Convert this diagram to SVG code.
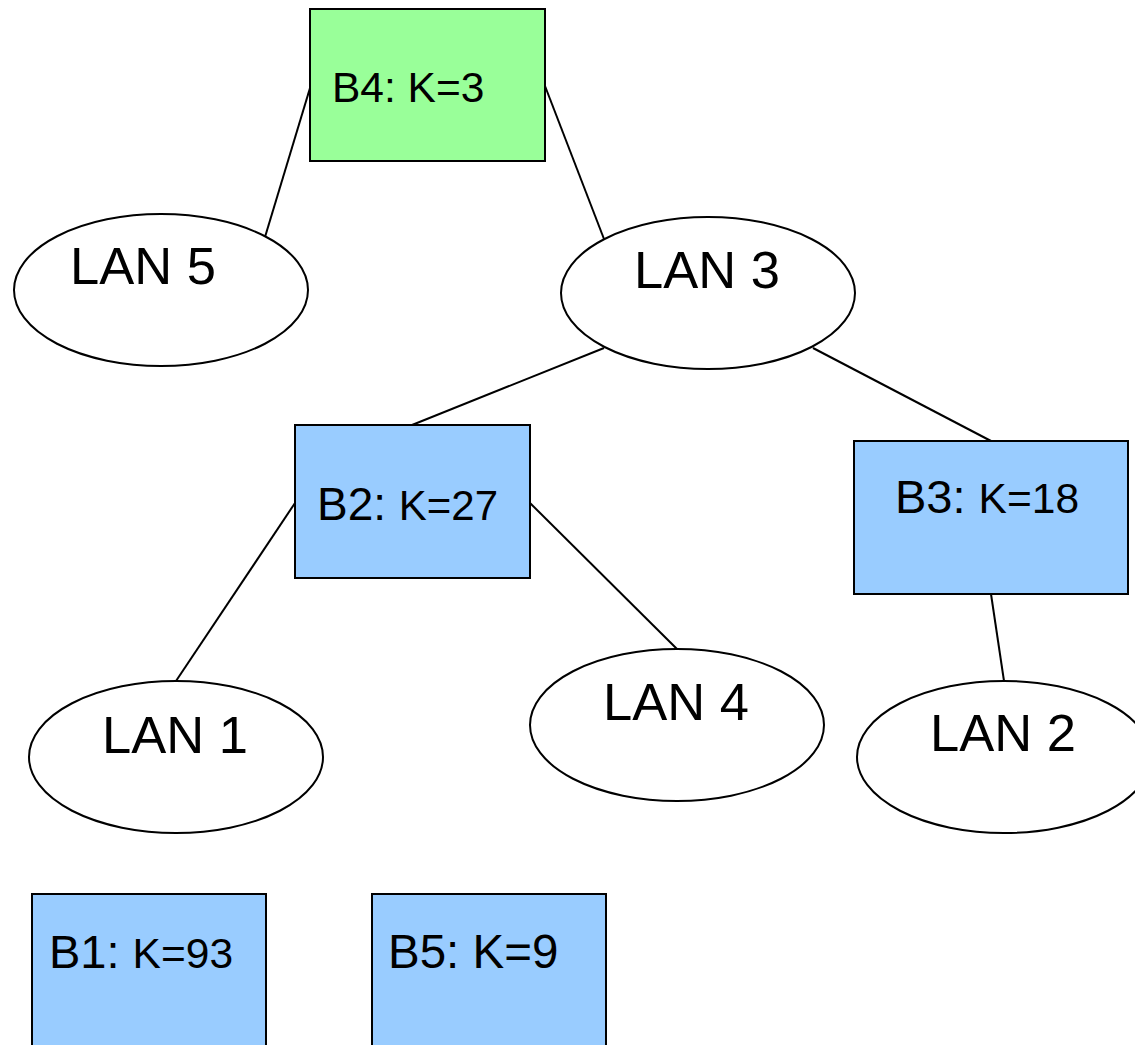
<svg xmlns="http://www.w3.org/2000/svg" width="1135" height="1045" viewBox="0 0 1135 1045">
  <style>
    .lan { fill: #ffffff; stroke: #000000; stroke-width: 2; }
    .bridge { fill: #99ccff; stroke: #000000; stroke-width: 2; }
    .root { fill: #99ff99; stroke: #000000; stroke-width: 2; }
    .link { stroke: #000000; stroke-width: 2; fill: none; }
    text { font-family: "Liberation Sans", Arial, sans-serif; fill: #000000; }
    .lt { font-size: 52.5px; }
  </style>
  <rect width="1135" height="1045" fill="#ffffff"/>
  <g id="connectors">
    <line class="link" x1="310" y1="88" x2="265" y2="237"/>
    <line class="link" x1="545" y1="86" x2="604" y2="239"/>
    <line class="link" x1="604" y1="348" x2="412" y2="425"/>
    <line class="link" x1="813" y1="348" x2="991" y2="441"/>
    <line class="link" x1="295" y1="503" x2="176" y2="681"/>
    <line class="link" x1="530" y1="503" x2="677" y2="649"/>
    <line class="link" x1="991" y1="594" x2="1004" y2="681"/>
  </g>
  <g id="lan5">
    <ellipse class="lan" cx="161" cy="290" rx="147" ry="76"/>
    <text class="lt" x="70" y="284">LAN 5</text>
  </g>
  <g id="lan3">
    <ellipse class="lan" cx="708" cy="293" rx="147" ry="76"/>
    <text class="lt" x="634" y="288">LAN 3</text>
  </g>
  <g id="lan1">
    <ellipse class="lan" cx="176" cy="757" rx="147" ry="76"/>
    <text class="lt" x="102" y="753">LAN 1</text>
  </g>
  <g id="lan4">
    <ellipse class="lan" cx="677" cy="725" rx="147" ry="76"/>
    <text class="lt" x="603" y="720">LAN 4</text>
  </g>
  <g id="lan2">
    <ellipse class="lan" cx="1004" cy="757" rx="147" ry="76"/>
    <text class="lt" x="930" y="751">LAN 2</text>
  </g>
  <g id="b4">
    <rect class="root" x="310" y="9" width="235" height="152"/>
    <text x="332" y="102" font-size="42.5">B4: K=3</text>
  </g>
  <g id="b2">
    <rect class="bridge" x="295" y="425" width="235" height="153"/>
    <text x="317" y="520"><tspan font-size="46">B2: </tspan><tspan font-size="42">K=27</tspan></text>
  </g>
  <g id="b3">
    <rect class="bridge" x="854" y="441" width="274" height="153"/>
    <text x="895" y="513"><tspan font-size="47">B3: </tspan><tspan font-size="42.5">K=18</tspan></text>
  </g>
  <g id="b1">
    <rect class="bridge" x="32" y="894" width="234" height="160"/>
    <text x="49" y="968"><tspan font-size="47">B1: </tspan><tspan font-size="42.5">K=93</tspan></text>
  </g>
  <g id="b5">
    <rect class="bridge" x="372" y="894" width="234" height="160"/>
    <text x="388" y="968" font-size="47.5">B5: K=9</text>
  </g>
</svg>
